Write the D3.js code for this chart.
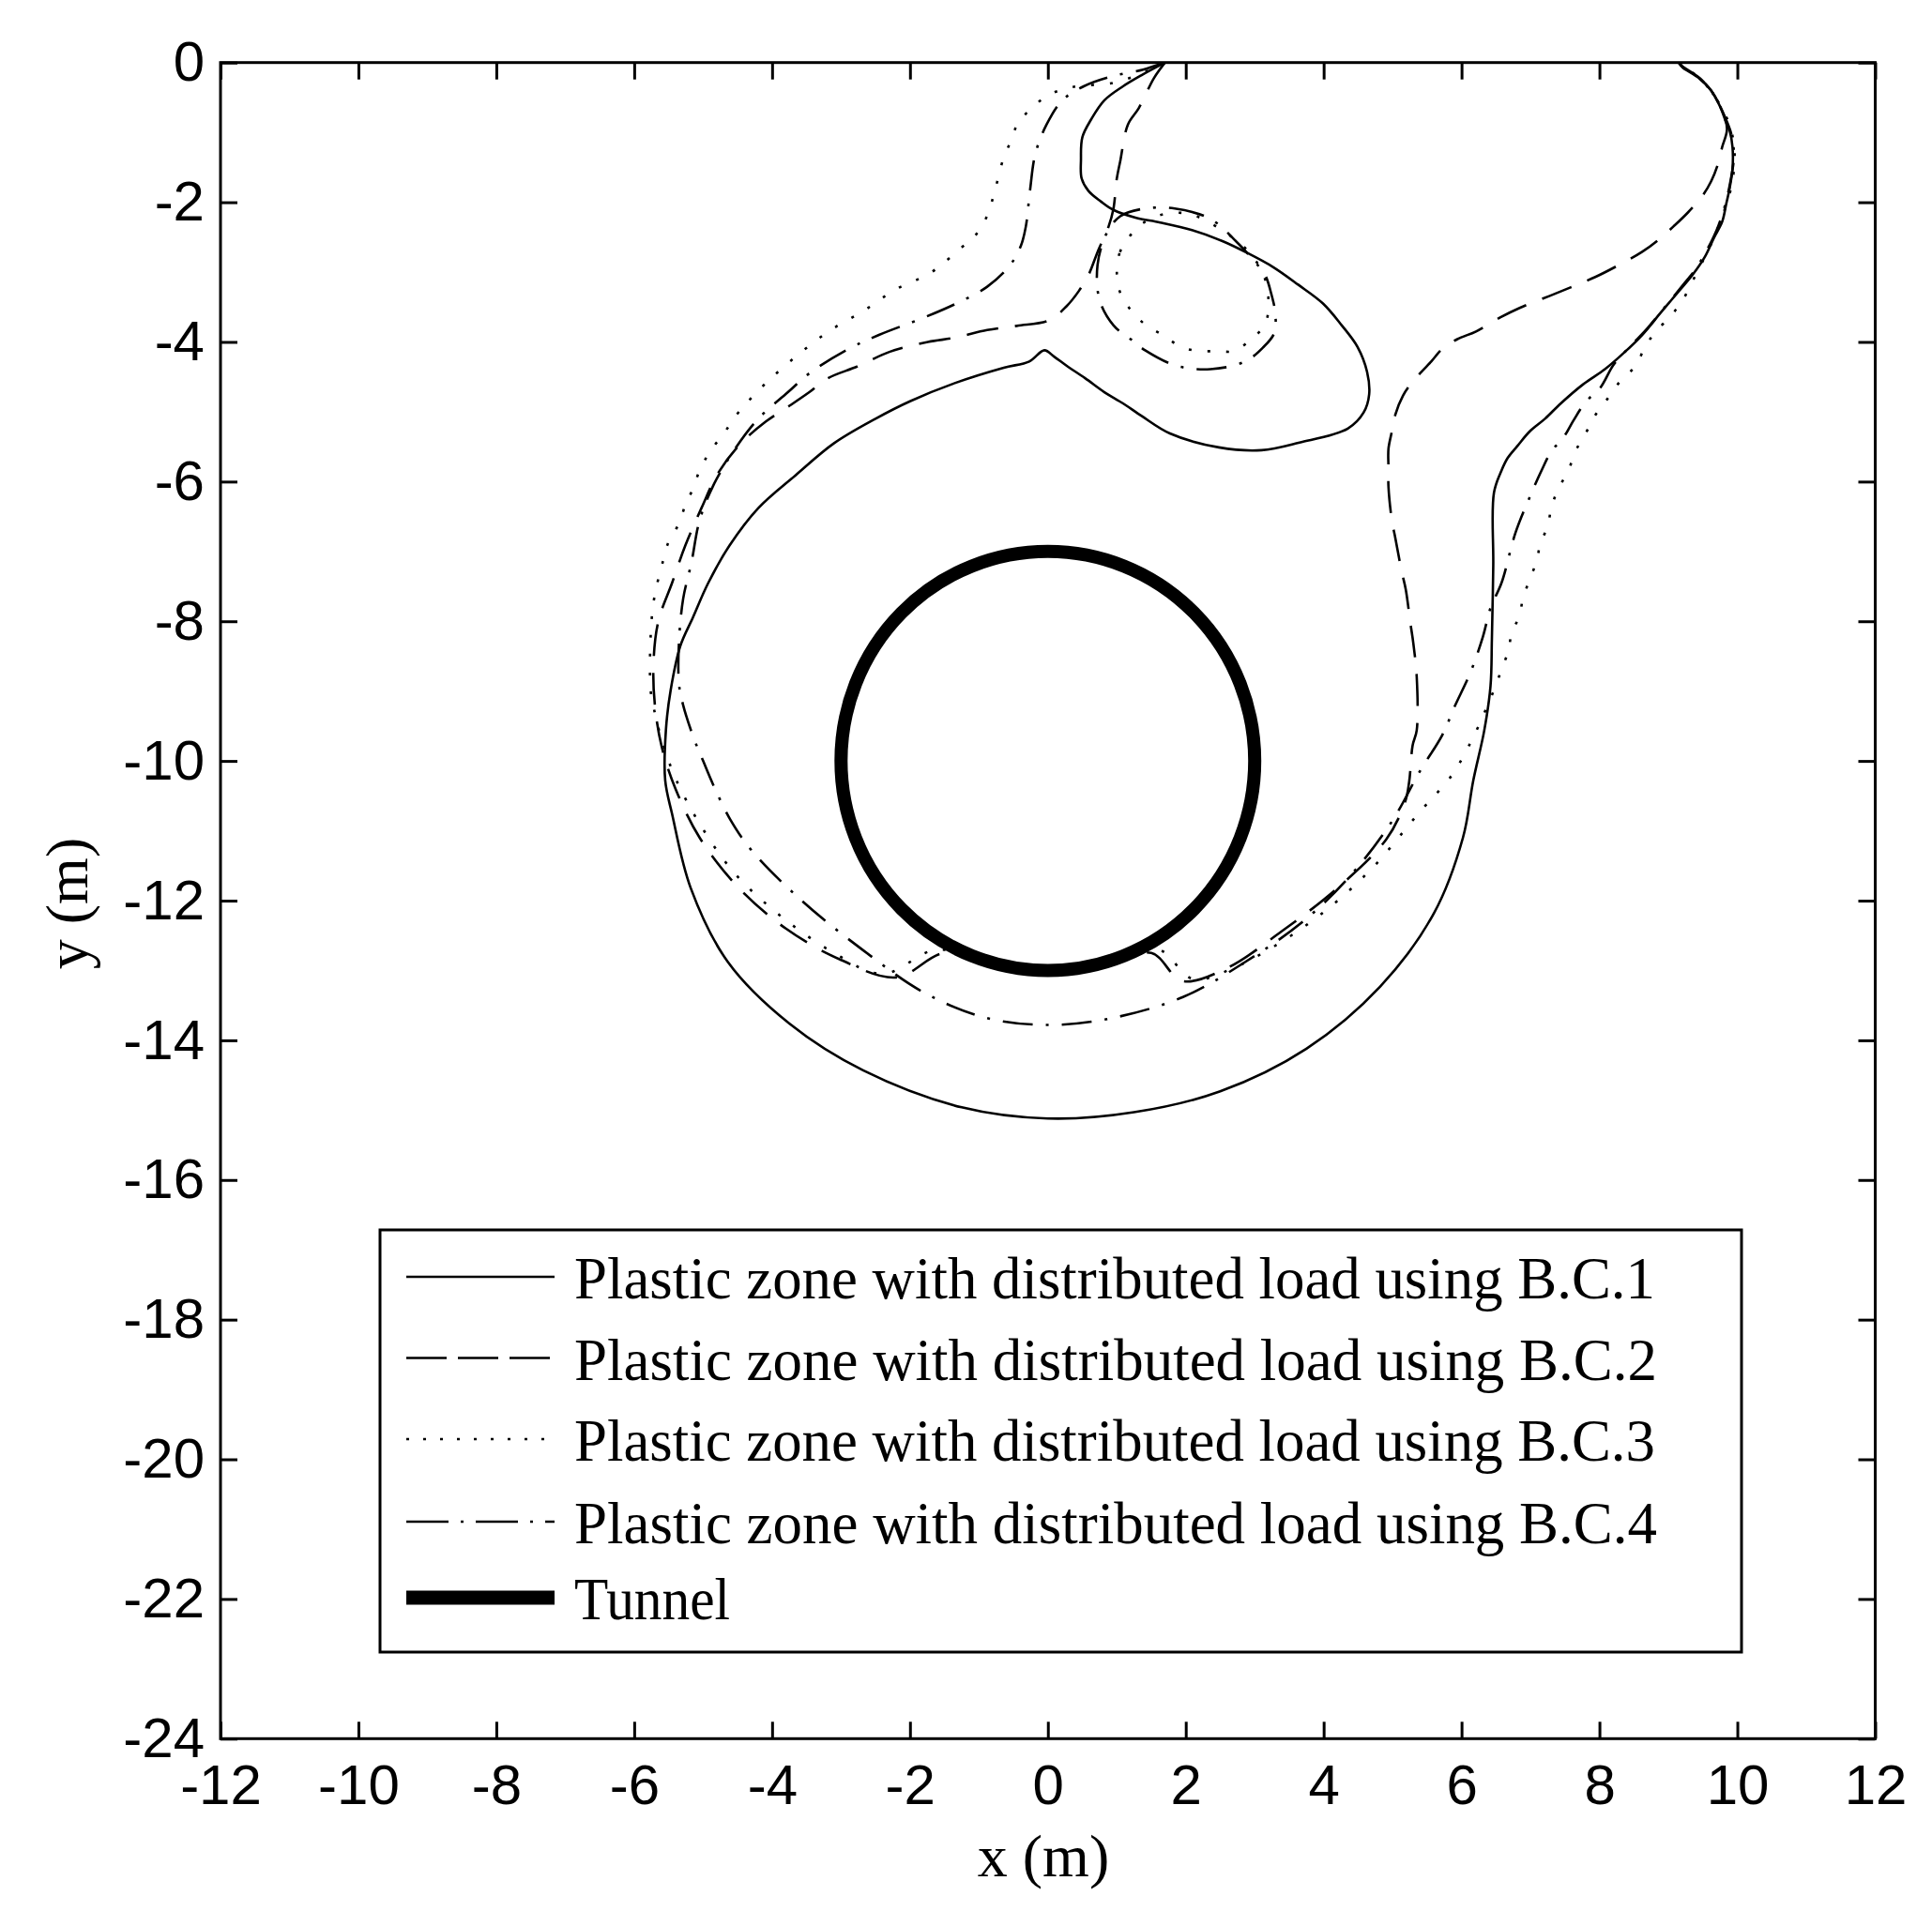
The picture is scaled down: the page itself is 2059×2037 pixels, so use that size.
<!DOCTYPE html>
<html><head><meta charset="utf-8">
<script src="https://cdn.jsdelivr.net/npm/d3@7"></script>
<style>body{margin:0;background:#fff} svg{display:block}</style>
</head><body>
<svg id="chart" width="2059" height="2037"></svg>
<script>
// ---------- data (x, y in metres) ----------
const xTickValues = [-12,-10,-8,-6,-4,-2,0,2,4,6,8,10,12];
const yTickValues = [0,-2,-4,-6,-8,-10,-12,-14,-16,-18,-20,-22,-24];
const legendLabels = [
  "Plastic zone with distributed load using B.C.1",
  "Plastic zone with distributed load using B.C.2",
  "Plastic zone with distributed load using B.C.3",
  "Plastic zone with distributed load using B.C.4",
  "Tunnel"
];
const tunnelCenter = [0, -10];
const tunnelRadius = 3;

const bc1 = [[1.70,0],[1.36,-0.18],[1.09,-0.34],[0.82,-0.54],[0.63,-0.81],[0.50,-1.07],[0.48,-1.39],[0.49,-1.66],[0.59,-1.84],[0.77,-1.99],[0.95,-2.11],[1.27,-2.22],[1.63,-2.29],[2.09,-2.40],[2.54,-2.56],[2.90,-2.73],[3.27,-2.93],[3.63,-3.18],[3.99,-3.45],[4.26,-3.76],[4.49,-4.07],[4.63,-4.43],[4.66,-4.75],[4.58,-5.01],[4.35,-5.24],[3.65,-5.44],[3.10,-5.55],[2.48,-5.51],[1.77,-5.31],[1.36,-5.06],[1.09,-4.88],[0.82,-4.72],[0.54,-4.52],[0.27,-4.34],[0.09,-4.21],[-0.05,-4.12],[-0.27,-4.28],[-0.64,-4.37],[-1.35,-4.59],[-2.0,-4.85],[-2.5,-5.1],[-3.1,-5.45],[-3.66,-5.91],[-4.2,-6.38],[-4.62,-6.92],[-4.93,-7.46],[-5.15,-7.95],[-5.33,-8.35],[-5.47,-8.98],[-5.54,-9.56],[-5.55,-10.28],[-5.45,-10.76],[-5.18,-11.82],[-4.64,-12.88],[-3.75,-13.76],[-2.68,-14.43],[-1.25,-14.96],[0,-15.12],[1.25,-15.03],[2.5,-14.73],[3.75,-14.12],[4.82,-13.23],[5.6,-12.18],[6.02,-11.1],[6.17,-10.28],[6.33,-9.56],[6.42,-8.93],[6.44,-8.26],[6.46,-7.2],[6.47,-6.16],[6.58,-5.84],[6.67,-5.66],[6.81,-5.49],[6.99,-5.28],[7.21,-5.10],[7.44,-4.88],[7.76,-4.61],[8.08,-4.39],[8.35,-4.16],[8.62,-3.90],[8.89,-3.58],[9.12,-3.31],[9.35,-3.04],[9.53,-2.78],[9.66,-2.51],[9.78,-2.28],[9.84,-2.02],[9.89,-1.79],[9.93,-1.52],[9.93,-1.21],[9.89,-0.98],[9.82,-0.81],[9.75,-0.63],[9.62,-0.40],[9.44,-0.22],[9.21,-0.07],[9.15,0]];

const bc2 = [[1.70,0],[1.54,-0.22],[1.32,-0.65],[1.16,-0.89],[1.05,-1.41],[1.0,-1.66],[0.95,-2.10],[0.88,-2.35],[0.73,-2.69],[0.59,-3.04],[0.45,-3.27],[0.27,-3.49],[0.02,-3.69],[-0.45,-3.77],[-0.88,-3.83],[-1.35,-3.94],[-1.74,-4.0],[-2.29,-4.14],[-2.76,-4.35],[-3.19,-4.52],[-3.46,-4.72],[-3.77,-4.93],[-4.09,-5.14],[-4.48,-5.48],[-4.79,-5.89],[-5.02,-6.37],[-5.26,-6.92],[-5.45,-7.45],[-5.65,-8.0],[-5.72,-8.6],[-5.70,-9.2],[-5.6,-9.8],[-5.4,-10.4],[-5.05,-11.1],[-4.5,-11.8],[-3.8,-12.4],[-3.0,-12.85],[-2.2,-13.1],[-1.5,-12.75],[-0.8,-12.93],[0,-13.0],[0.8,-12.93],[1.5,-12.75],[1.95,-13.15],[2.59,-12.97],[3.39,-12.44],[4.2,-11.82],[4.91,-11.12],[5.18,-10.59],[5.24,-10.30],[5.29,-9.78],[5.35,-9.56],[5.35,-8.80],[5.30,-8.31],[5.26,-8.04],[5.19,-7.54],[5.13,-7.28],[5.04,-6.81],[4.99,-6.56],[4.94,-6.07],[4.94,-5.80],[4.94,-5.53],[4.99,-5.28],[5.04,-5.04],[5.15,-4.77],[5.29,-4.57],[5.56,-4.28],[5.72,-4.10],[5.94,-3.96],[6.21,-3.85],[6.56,-3.65],[6.85,-3.51],[7.28,-3.34],[7.58,-3.22],[7.94,-3.07],[8.26,-2.91],[8.62,-2.71],[8.89,-2.51],[9.07,-2.35],[9.28,-2.15],[9.50,-1.90],[9.62,-1.70],[9.71,-1.48],[9.78,-1.21],[9.85,-0.95],[9.78,-0.7],[9.62,-0.40],[9.44,-0.22],[9.21,-0.07],[9.15,0]];

const bc3Outer = [[1.70,0],[1.3,-0.18],[0.9,-0.3],[0.5,-0.33],[0.23,-0.38],[-0.02,-0.48],[-0.23,-0.65],[-0.43,-0.86],[-0.54,-1.13],[-0.65,-1.39],[-0.77,-1.84],[-0.88,-2.19],[-1.04,-2.46],[-1.28,-2.67],[-1.70,-3.01],[-2.21,-3.25],[-2.68,-3.56],[-3.15,-3.83],[-3.62,-4.18],[-4.09,-4.59],[-4.48,-5.0],[-4.70,-5.31],[-4.90,-5.57],[-5.05,-5.84],[-5.15,-6.11],[-5.25,-6.31],[-5.35,-6.60],[-5.50,-6.86],[-5.58,-7.13],[-5.71,-7.67],[-5.76,-8.19],[-5.76,-9.0],[-5.71,-9.27],[-5.6,-9.7],[-5.4,-10.25],[-5.05,-10.9],[-4.55,-11.6],[-3.9,-12.2],[-3.1,-12.75],[-2.4,-13.05],[-1.6,-12.7],[-0.8,-12.93],[0,-13.0],[0.8,-12.93],[1.6,-12.7],[2.1,-13.12],[2.68,-12.97],[3.75,-12.35],[4.64,-11.6],[5.36,-10.77],[5.87,-10.19],[6.07,-9.85],[6.2,-9.6],[6.48,-8.96],[6.58,-8.69],[6.68,-8.42],[6.73,-8.15],[6.84,-7.93],[6.89,-7.67],[6.99,-7.40],[7.09,-7.13],[7.15,-6.86],[7.25,-6.65],[7.30,-6.38],[7.40,-6.11],[7.55,-5.84],[7.65,-5.57],[7.80,-5.31],[7.92,-5.08],[8.12,-4.81],[8.32,-4.54],[8.53,-4.34],[8.66,-4.07],[8.82,-3.85],[9.03,-3.63],[9.19,-3.43],[9.35,-3.13],[9.53,-2.78],[9.66,-2.51],[9.80,-2.15],[9.91,-1.79],[9.96,-1.4],[9.94,-1.1],[9.85,-0.8],[9.68,-0.5],[9.45,-0.22],[9.2,-0.05],[9.15,0]];

const bc3Lobe = [[1.16,-2.52],[1.04,-2.73],[1.0,-3.0],[1.04,-3.27],[1.20,-3.54],[1.41,-3.75],[1.68,-3.91],[1.93,-4.07],[2.18,-4.13],[2.45,-4.13],[2.70,-4.13],[2.95,-3.96],[3.15,-3.75],[3.2,-3.45],[3.15,-3.1],[2.95,-2.75],[2.6,-2.45],[2.13,-2.19],[1.86,-2.15],[1.61,-2.19],[1.35,-2.32]];

const bc4Outer = [[1.69,0],[1.38,-0.10],[0.92,-0.20],[0.52,-0.34],[0.21,-0.54],[-0.02,-0.89],[-0.18,-1.30],[-0.26,-1.84],[-0.32,-2.35],[-0.39,-2.62],[-0.54,-2.89],[-0.88,-3.21],[-1.35,-3.46],[-1.82,-3.66],[-2.45,-3.90],[-2.91,-4.11],[-3.46,-4.45],[-3.77,-4.72],[-4.2,-5.1],[-4.55,-5.55],[-4.85,-6.05],[-5.05,-6.55],[-5.17,-7.16],[-5.29,-7.68],[-5.35,-8.3],[-5.35,-8.9],[-5.29,-9.2],[-5.13,-9.69],[-5.0,-10.0],[-4.85,-10.35],[-4.6,-10.85],[-4.29,-11.29],[-3.57,-12.0],[-2.68,-12.71],[-1.79,-13.32],[-0.89,-13.68],[0,-13.78],[0.89,-13.69],[1.96,-13.38],[2.86,-12.88],[3.75,-12.26],[4.46,-11.56],[5.0,-10.85],[5.40,-10.14],[5.72,-9.63],[5.90,-9.22],[6.13,-8.73],[6.31,-8.22],[6.42,-7.81],[6.58,-7.45],[6.78,-6.74],[6.99,-6.22],[7.17,-5.82],[7.30,-5.57],[7.49,-5.35],[7.62,-5.13],[7.80,-4.86],[8.01,-4.66],[8.21,-4.32],[8.44,-4.07],[8.7,-3.8],[8.95,-3.5],[9.2,-3.2],[9.4,-2.95],[9.55,-2.7],[9.7,-2.4],[9.82,-2.05],[9.9,-1.7],[9.95,-1.35],[9.92,-1.05],[9.83,-0.8],[9.65,-0.45],[9.45,-0.22],[9.2,-0.05],[9.15,0]];

const bc4Lobe = [[1.41,-2.09],[1.84,-2.09],[2.36,-2.24],[2.77,-2.60],[3.0,-2.85],[3.15,-3.04],[3.24,-3.31],[3.3,-3.6],[3.28,-3.88],[3.12,-4.08],[2.86,-4.28],[2.36,-4.39],[1.86,-4.34],[1.41,-4.12],[1.2,-3.96],[0.95,-3.76],[0.75,-3.4],[0.72,-2.9],[0.85,-2.45],[1.05,-2.2]];

// ---------- layout ----------
const W = 2059, H = 2037;
const plot = {left: 235, right: 1998.5, top: 66.7, bottom: 1853.3};
const x = d3.scaleLinear().domain([-12, 12]).range([plot.left, plot.right]);
const y = d3.scaleLinear().domain([0, -24]).range([plot.top, plot.bottom]);

const styles = {
  bc1: {dash: null},
  bc2: {dash: "34,18"},
  bc3: {dash: "3,17"},
  bc4: {dash: "32,14,3,14"}
};
const legendDash = [null, "43,12", "3,15", "45,13,3,13"];

const svg = d3.select("#chart");
svg.append("rect").attr("width", W).attr("height", H).attr("fill", "#fff");

svg.append("defs").append("clipPath").attr("id", "clip")
  .append("rect").attr("x", plot.left).attr("y", plot.top)
  .attr("width", plot.right - plot.left).attr("height", plot.bottom - plot.top);

const gPlot = svg.append("g").attr("clip-path", "url(#clip)");
const line = d3.line().x(d => x(d[0])).y(d => y(d[1])).curve(d3.curveCatmullRom.alpha(0.5));
const lineClosed = d3.line().x(d => x(d[0])).y(d => y(d[1])).curve(d3.curveCatmullRomClosed.alpha(0.5));

const curves = [
  {data: bc1, s: styles.bc1, closed: false},
  {data: bc2, s: styles.bc2, closed: false},
  {data: bc3Outer, s: styles.bc3, closed: false},
  {data: bc3Lobe, s: styles.bc3, closed: true},
  {data: bc4Outer, s: styles.bc4, closed: false},
  {data: bc4Lobe, s: styles.bc4, closed: true}
];
curves.forEach(c => {
  gPlot.append("path")
    .attr("d", (c.closed ? lineClosed : line)(c.data))
    .attr("fill", "none").attr("stroke", "#000").attr("stroke-width", 2.6)
    .attr("stroke-dasharray", c.s.dash);
});

// tunnel
gPlot.append("ellipse")
  .attr("cx", x(tunnelCenter[0])).attr("cy", y(tunnelCenter[1]))
  .attr("rx", x(tunnelRadius) - x(0)).attr("ry", y(tunnelCenter[1] - tunnelRadius) - y(tunnelCenter[1]))
  .attr("fill", "none").attr("stroke", "#000").attr("stroke-width", 14);

// ---------- axes ----------
const tickFont = "'Liberation Sans', Arial, sans-serif";
const fmt = d => String(d);
const gx = svg.append("g").attr("transform", `translate(0,${plot.bottom})`)
  .call(d3.axisBottom(x).tickValues(xTickValues).tickFormat(fmt).tickSize(-18).tickSizeOuter(0).tickPadding(27));
const gy = svg.append("g").attr("transform", `translate(${plot.left},0)`)
  .call(d3.axisLeft(y).tickValues(yTickValues).tickFormat(fmt).tickSize(-18).tickSizeOuter(0).tickPadding(17));
const gxt = svg.append("g").attr("transform", `translate(0,${plot.top})`)
  .call(d3.axisTop(x).tickValues(xTickValues).tickFormat("").tickSize(-18).tickSizeOuter(0));
const gyr = svg.append("g").attr("transform", `translate(${plot.right},0)`)
  .call(d3.axisRight(y).tickValues(yTickValues).tickFormat("").tickSize(-18).tickSizeOuter(0));
[gx, gy, gxt, gyr].forEach(g => {
  g.select(".domain").remove();
  g.selectAll(".tick line").attr("stroke", "#000").attr("stroke-width", 3);
  g.selectAll(".tick text").attr("fill", "#000").style("font-family", tickFont).style("font-size", "60px");
});

svg.append("rect").attr("x", plot.left).attr("y", plot.top)
  .attr("width", plot.right - plot.left).attr("height", plot.bottom - plot.top)
  .attr("fill", "none").attr("stroke", "#000").attr("stroke-width", 3);

// axis labels
const serif = "'Liberation Serif', 'Times New Roman', serif";
svg.append("text").attr("x", 1112).attr("y", 2000).attr("text-anchor", "middle")
  .style("font-family", serif).style("font-size", "64px").text("x (m)");
svg.append("text").attr("transform", "translate(93,963) rotate(-90)").attr("text-anchor", "middle")
  .style("font-family", serif).style("font-size", "64px").text("y (m)");

// ---------- legend ----------
const leg = {x0: 405, y0: 1311, x1: 1856, y1: 1761};
svg.append("rect").attr("x", leg.x0).attr("y", leg.y0)
  .attr("width", leg.x1 - leg.x0).attr("height", leg.y1 - leg.y0)
  .attr("fill", "#fff").attr("stroke", "#000").attr("stroke-width", 3);
const rowY = [1361, 1447.5, 1534, 1622, 1703];
const textLen = [1152, 1154, 1152, 1154, 166];
legendLabels.forEach((lab, i) => {
  const isTunnel = i === 4;
  svg.append("line").attr("x1", 433).attr("x2", 591).attr("y1", rowY[i]).attr("y2", rowY[i])
    .attr("stroke", "#000").attr("stroke-width", isTunnel ? 15 : 2.6)
    .attr("stroke-dasharray", isTunnel ? null : legendDash[i]);
  svg.append("text").attr("x", 612).attr("y", rowY[i] + 23)
    .attr("textLength", textLen[i]).attr("lengthAdjust", "spacingAndGlyphs")
    .style("font-family", serif).style("font-size", "63px").text(lab);
});
</script>
</body></html>
